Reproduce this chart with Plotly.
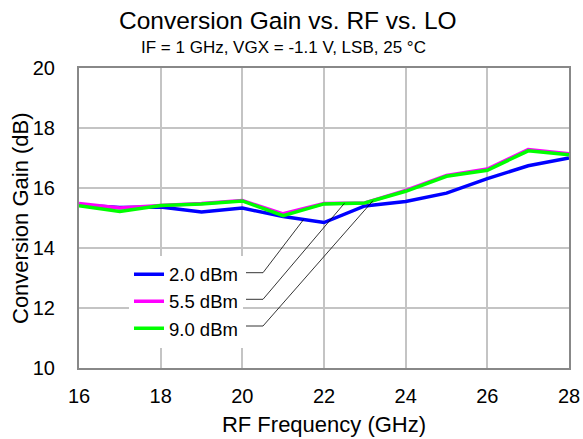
import numpy as np
import plotly.graph_objects as go

rf_ghz = [16, 17, 18, 19, 20, 21, 22, 23, 24, 25, 26, 27, 28]
gain_2p0 = [15.43, 15.35, 15.37, 15.20, 15.33, 15.05, 14.85, 15.40, 15.55, 15.83, 16.31, 16.74, 17.00]
gain_5p5 = [15.48, 15.33, 15.42, 15.48, 15.58, 15.14, 15.48, 15.50, 15.92, 16.42, 16.63, 17.28, 17.14]
gain_9p0 = [15.41, 15.22, 15.42, 15.47, 15.57, 15.08, 15.47, 15.50, 15.89, 16.39, 16.59, 17.24, 17.11]
series_names = ["2.0 dBm", "5.5 dBm", "9.0 dBm"]
series_colors = ["#0000ff", "#ff00ff", "#00ff00"]
x_ticks = [16, 18, 20, 22, 24, 26, 28]
y_ticks = [10, 12, 14, 16, 18, 20]
leader_target_x = [21.5, 22.5, 23.2]

FONT = "Liberation Sans, Arial, sans-serif"

W, H = 583, 439
L, T = 79, 68
R = 583 - 569
B = 439 - 368
pw, ph = W - L - R, H - T - B

def page_x_to_data(px):
    return 16 + (px - L) / pw * 12
def page_y_to_data(py):
    return 10 + (T + ph - py) / ph * 10
def page_x_to_paper(px):
    return (px - L) / pw
def page_y_to_paper(py):
    return (T + ph - py) / ph

fig = go.Figure()
for name, ys, col in zip(series_names, [gain_2p0, gain_5p5, gain_9p0], series_colors):
    fig.add_trace(go.Scatter(x=rf_ghz, y=ys, mode="lines", name=name,
                             line=dict(color=col, width=3.5)))

# leader lines from legend labels to curves
row_py = [272.7, 299.3, 326.0]
for tx, ys, rpy in zip(leader_target_x, [gain_2p0, gain_5p5, gain_9p0], row_py):
    ty = float(np.interp(tx, rf_ghz, ys))
    x0, x1 = page_x_to_data(246), page_x_to_data(263)
    y0 = page_y_to_data(rpy)
    fig.add_shape(type="path", xref="x", yref="y",
                  path=f"M {x0},{y0} L {x1},{y0} L {tx},{ty}",
                  line=dict(color="black", width=0.8), layer="above")

fig.add_annotation(text="Conversion Gain vs. RF vs. LO", xref="paper", yref="paper",
                   x=page_x_to_paper(287.5), y=page_y_to_paper(20.5), xanchor="center", yanchor="middle",
                   showarrow=False, font=dict(family=FONT, size=24.5, color="black"))
fig.add_annotation(text="IF = 1 GHz, VGX = -1.1 V, LSB, 25 °C", xref="paper", yref="paper",
                   x=page_x_to_paper(283.5), y=page_y_to_paper(47.5), xanchor="center", yanchor="middle",
                   showarrow=False, font=dict(family=FONT, size=17, color="black"))
# y-axis title
fig.add_annotation(text="Conversion Gain (dB)", xref="paper", yref="paper",
                   x=page_x_to_paper(20), y=0.5, xanchor="center", yanchor="middle", textangle=-90,
                   showarrow=False, font=dict(family=FONT, size=22, color="black"))

fig.update_layout(
    width=W, height=H, autosize=False,
    margin=dict(l=L, r=R, t=T, b=B, autoexpand=False),
    paper_bgcolor="white", plot_bgcolor="white",
    font=dict(family=FONT, size=20, color="black"),
    showlegend=True,
    legend=dict(x=page_x_to_paper(129), y=page_y_to_paper(255.7), xanchor="left", yanchor="top",
                bgcolor="white", borderwidth=0, font=dict(family=FONT, size=18.5),
                tracegroupgap=0),
    xaxis=dict(range=[16, 28], tickvals=x_ticks, showgrid=True, gridcolor="#c4c4c4", gridwidth=1.5,
               showline=True, linecolor="#888888", linewidth=2, mirror=True, zeroline=False,
               automargin=False,
               ticks="", tickfont=dict(size=20), ticklabelstandoff=9,
               title=dict(text="RF Frequency (GHz)", font=dict(size=22), standoff=11)),
    yaxis=dict(range=[10, 20], tickvals=y_ticks, showgrid=True, gridcolor="#c4c4c4", gridwidth=1.5,
               showline=True, linecolor="#888888", linewidth=2, mirror=True, zeroline=False,
               automargin=False,
               ticks="", tickfont=dict(size=20), ticklabelstandoff=18),
)
fig.write_html("out.html", config={"displayModeBar": False},
               post_script="document.body.style.margin='0';"
                           "document.documentElement.style.overflow='hidden';"
                           "document.body.style.overflow='hidden';")
